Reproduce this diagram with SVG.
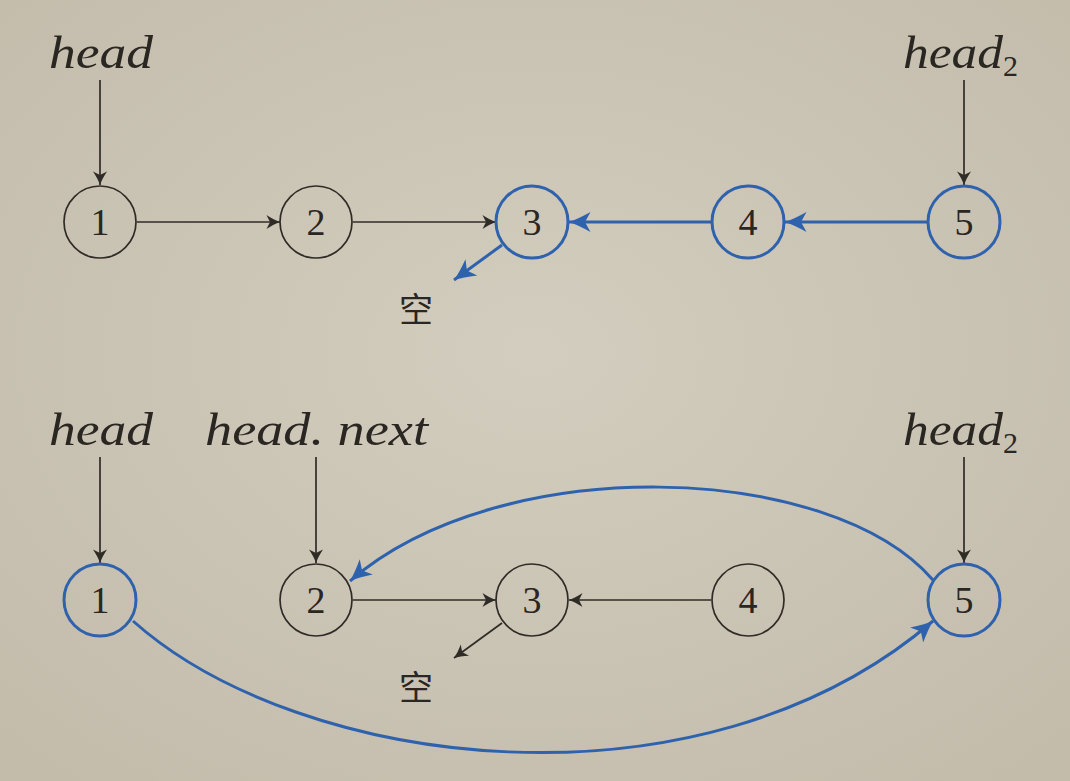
<svg xmlns="http://www.w3.org/2000/svg" width="1070" height="781" viewBox="0 0 1070 781">
<defs>
<radialGradient id="bg" cx="0.5" cy="0.45" r="0.7">
<stop offset="0" stop-color="#d3cdbf"/>
<stop offset="1" stop-color="#c3bcab"/>
</radialGradient>
<marker id="ak" markerUnits="userSpaceOnUse" markerWidth="16" markerHeight="16" refX="14" refY="8" orient="auto">
<path d="M0.5,1 Q8,6 14,8 Q8,10 0.5,15 L4,8 Z" fill="#2f2b26"/>
</marker>
<marker id="ab" markerUnits="userSpaceOnUse" markerWidth="24" markerHeight="22" refX="22" refY="11" orient="auto">
<path d="M0.5,1 Q13,8 22,11 Q13,14 0.5,21 L6,11 Z" fill="#2f62ad"/>
</marker>
</defs>
<style>
.nk{fill:none;stroke:#2f2b26;stroke-width:1.7}
.nb{fill:none;stroke:#2f62ad;stroke-width:3}
.num{font-family:"Liberation Serif","DejaVu Serif",serif;font-size:38px;fill:#2a2622;text-anchor:middle}
.lab{font-family:"Liberation Serif","DejaVu Serif",serif;font-style:italic;font-size:46px;fill:#2a2622}
.sub{font-family:"Liberation Serif","DejaVu Serif",serif;font-size:30px;fill:#2a2622}
.cjk{font-family:"Noto Sans CJK SC","Noto Sans CJK JP",sans-serif;font-size:34px;fill:#2a2622;text-anchor:middle}
.ck{fill:none;stroke:#2f2b26;stroke-width:1.7;marker-end:url(#ak)}
.cb{fill:none;stroke:#2f62ad;stroke-width:3;marker-end:url(#ab)}
</style>
<rect width="1070" height="781" fill="url(#bg)"/>

<g id="labels">
<text class="lab" x="49" y="68" textLength="104" lengthAdjust="spacingAndGlyphs">head</text>
<text x="903" y="68"><tspan class="lab" textLength="100" lengthAdjust="spacingAndGlyphs">head</tspan><tspan class="sub" dy="8">2</tspan></text>
<text class="lab" x="49" y="445" textLength="104" lengthAdjust="spacingAndGlyphs">head</text>
<text class="lab" x="205" y="445" textLength="223" lengthAdjust="spacingAndGlyphs">head. next</text>
<text x="903" y="445"><tspan class="lab" textLength="100" lengthAdjust="spacingAndGlyphs">head</tspan><tspan class="sub" dy="8">2</tspan></text>
<text class="cjk" x="416" y="322">空</text>
<text class="cjk" x="416" y="700">空</text>
</g>

<g id="connectors">
<line class="ck" x1="100" y1="80" x2="100" y2="185"/>
<line class="ck" x1="964" y1="80" x2="964" y2="185"/>
<line class="ck" x1="137" y1="222" x2="280" y2="222"/>
<line class="ck" x1="353" y1="222" x2="496" y2="222"/>
<line class="cb" x1="711" y1="222" x2="569" y2="222"/>
<line class="cb" x1="927" y1="222" x2="785" y2="222"/>
<line class="cb" x1="502" y1="245" x2="454" y2="280"/>

<line class="ck" x1="100" y1="457" x2="100" y2="563"/>
<line class="ck" x1="316" y1="457" x2="316" y2="563"/>
<line class="ck" x1="964" y1="457" x2="964" y2="563"/>
<line class="ck" x1="353" y1="600" x2="496" y2="600"/>
<line class="ck" x1="711" y1="600" x2="569" y2="600"/>
<line class="ck" x1="502" y1="623" x2="454" y2="658"/>
<path class="cb" d="M933,580 C830,461 500,451 350,581"/>
<path class="cb" d="M133,621 C300,770 700,821 933,621"/>
</g>

<g id="n1"><circle class="nk" cx="100" cy="222" r="36"/><text class="num" x="100" y="235">1</text></g>
<g id="n2"><circle class="nk" cx="316" cy="222" r="36"/><text class="num" x="316" y="235">2</text></g>
<g id="n3"><circle class="nb" cx="532" cy="222" r="36"/><text class="num" x="532" y="235">3</text></g>
<g id="n4"><circle class="nb" cx="748" cy="222" r="36"/><text class="num" x="748" y="235">4</text></g>
<g id="n5"><circle class="nb" cx="964" cy="222" r="36"/><text class="num" x="964" y="235">5</text></g>

<g id="m1"><circle class="nb" cx="100" cy="600" r="36"/><text class="num" x="100" y="613">1</text></g>
<g id="m2"><circle class="nk" cx="316" cy="600" r="36"/><text class="num" x="316" y="613">2</text></g>
<g id="m3"><circle class="nk" cx="532" cy="600" r="36"/><text class="num" x="532" y="613">3</text></g>
<g id="m4"><circle class="nk" cx="748" cy="600" r="36"/><text class="num" x="748" y="613">4</text></g>
<g id="m5"><circle class="nb" cx="964" cy="600" r="36"/><text class="num" x="964" y="613">5</text></g>
</svg>
